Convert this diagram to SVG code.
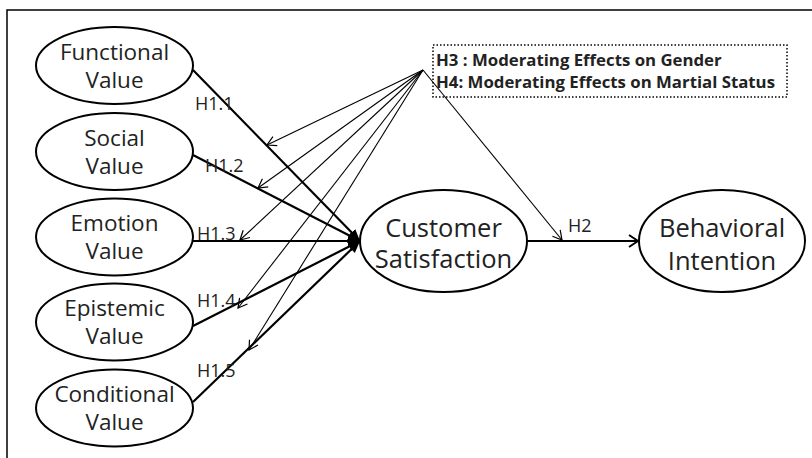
<svg xmlns="http://www.w3.org/2000/svg" width="812" height="458" viewBox="0 0 812 458">
<defs>
<style>
.node ellipse{fill:#fff;stroke:#000;stroke-width:2}
.nt{font-family:"Open Sans","Noto Sans",sans-serif;font-size:22.5px;fill:#222;text-anchor:middle}
.bt{font-family:"Open Sans","Noto Sans",sans-serif;font-size:25.5px;fill:#222;text-anchor:middle}
.lbl{font-family:"Open Sans","Noto Sans",sans-serif;font-size:18px;fill:#222}
.box{font-family:"Open Sans","Noto Sans",sans-serif;font-size:16.8px;font-weight:bold;fill:#222}
.thick{stroke:#000;stroke-width:2.2;fill:none}
.thin{stroke:#000;stroke-width:1.1;fill:none}
</style>
<marker id="fill" markerUnits="userSpaceOnUse" markerWidth="14" markerHeight="12" refX="12" refY="6" orient="auto">
<path d="M0,1 L12,6 L0,11 Z" fill="#000"/>
</marker>
<marker id="open" markerUnits="userSpaceOnUse" markerWidth="12" markerHeight="12" refX="10" refY="6" orient="auto">
<path d="M1,1 L10,6 L1,11" fill="none" stroke="#000" stroke-width="1.2"/>
</marker>
<marker id="open2" markerUnits="userSpaceOnUse" markerWidth="12" markerHeight="14" refX="10" refY="7" orient="auto">
<path d="M1,1 L10,7 L1,13" fill="none" stroke="#000" stroke-width="2"/>
</marker>
</defs>
<rect x="0" y="0" width="812" height="458" fill="#fff"/>
<path d="M7,470 L7,10 L820,10" fill="none" stroke="#000" stroke-width="1.5"/>

<g id="connectors">
<line class="thick" x1="193" y1="70" x2="360" y2="241" marker-end="url(#fill)"/>
<line class="thick" x1="193" y1="155" x2="360" y2="241" marker-end="url(#fill)"/>
<line class="thick" x1="193" y1="241" x2="360" y2="241" marker-end="url(#fill)"/>
<line class="thick" x1="193" y1="326" x2="360" y2="241" marker-end="url(#fill)"/>
<line class="thick" x1="193" y1="402" x2="360" y2="241" marker-end="url(#fill)"/>
<line class="thick" x1="527" y1="241" x2="638" y2="241" marker-end="url(#open2)"/>
<line class="thin" x1="423" y1="70" x2="267" y2="145" marker-end="url(#open)"/>
<line class="thin" x1="423" y1="70" x2="258" y2="188" marker-end="url(#open)"/>
<line class="thin" x1="423" y1="70" x2="240" y2="240" marker-end="url(#open)"/>
<line class="thin" x1="423" y1="70" x2="238" y2="308" marker-end="url(#open)"/>
<line class="thin" x1="423" y1="70" x2="249" y2="350" marker-end="url(#open)"/>
<line class="thin" x1="423" y1="70" x2="562" y2="240" marker-end="url(#open)"/>
<text class="lbl" x="195" y="110">H1.1</text>
<text class="lbl" x="205" y="172">H1.2</text>
<text class="lbl" x="197" y="240">H1.3</text>
<text class="lbl" x="197" y="307">H1.4</text>
<text class="lbl" x="197" y="377">H1.5</text>
<text class="lbl" x="568" y="232">H2</text>
</g>

<g id="moderators">
<rect x="433" y="45" width="354" height="52" fill="none" stroke="#000" stroke-width="1.5" stroke-dasharray="1.5,2"/>
<text class="box" x="436" y="66">H3 : Moderating Effects on Gender</text>
<text class="box" x="436" y="88">H4: Moderating Effects on Martial Status</text>
</g>

<g id="functional" class="node"><ellipse cx="114.5" cy="65.5" rx="78.5" ry="38.5"/><text class="nt" x="114.5" y="60">Functional</text><text class="nt" x="114.5" y="88">Value</text></g>
<g id="social" class="node"><ellipse cx="114.5" cy="151.5" rx="78.5" ry="38.5"/><text class="nt" x="114.5" y="146">Social</text><text class="nt" x="114.5" y="174">Value</text></g>
<g id="emotion" class="node"><ellipse cx="114.5" cy="237" rx="78.5" ry="38.5"/><text class="nt" x="114.5" y="231">Emotion</text><text class="nt" x="114.5" y="259">Value</text></g>
<g id="epistemic" class="node"><ellipse cx="114.5" cy="322" rx="78.5" ry="38.5"/><text class="nt" x="114.5" y="316">Epistemic</text><text class="nt" x="114.5" y="344">Value</text></g>
<g id="conditional" class="node"><ellipse cx="114.5" cy="408" rx="78.5" ry="38.5"/><text class="nt" x="114.5" y="402">Conditional</text><text class="nt" x="114.5" y="430">Value</text></g>
<g id="satisfaction" class="node"><ellipse cx="443.5" cy="241" rx="83.5" ry="51"/><text class="bt" x="443.5" y="237">Customer</text><text class="bt" x="443.5" y="268">Satisfaction</text></g>
<g id="intention" class="node"><ellipse cx="722" cy="241" rx="83" ry="51"/><text class="bt" x="722" y="237">Behavioral</text><text class="bt" x="722" y="270">Intention</text></g>
</svg>
